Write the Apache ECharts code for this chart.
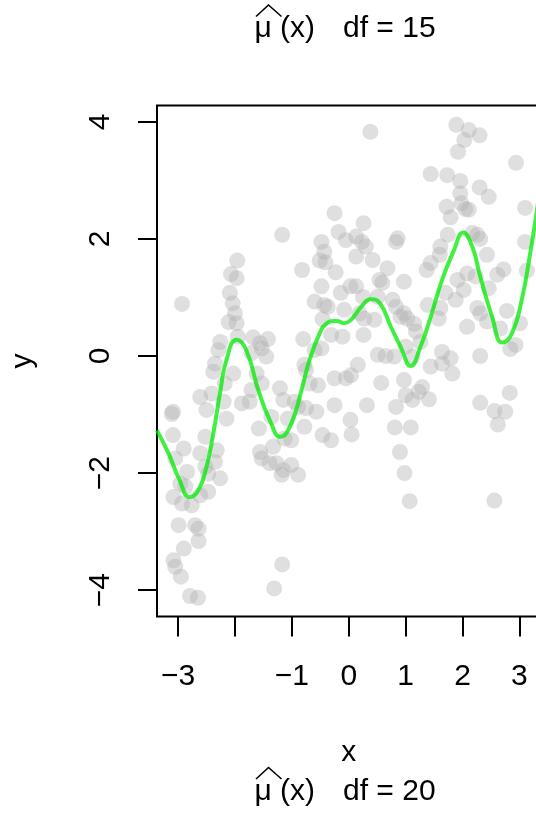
<!DOCTYPE html>
<html>
<head>
<meta charset="utf-8">
<script src="https://cdn.jsdelivr.net/npm/echarts@6/dist/echarts.min.js"></script>
<style>
  html, body { margin: 0; padding: 0; overflow: hidden; background: #fff; }
  #chart { width: 545px; height: 816px; }
</style>
</head>
<body>
<div id="chart"></div>
<script>
// Observed sample (x, y)
const pointX = [
  -2.93,-1.17,-0.25,-0.18,-0.48,-0.43,-0.51,-0.41,-0.23,-0.82,
  -1.96,-2.07,-1.97,-2.09,-2.04,-2.00,-2.11,-1.97,-0.48,-0.14,
  -0.60,-0.43,-0.37,-0.46,-0.08,-0.11,-0.31,-0.80,-0.48,-0.60,
  -0.05,0.03,-2.26,-2.29,-1.68,-1.42,-1.53,-1.95,0.38,1.89,
  2.11,2.30,2.03,1.92,2.94,1.44,1.73,1.96,2.30,1.96,
  2.46,1.72,2.05,2.11,3.10,1.79,0.26,1.98,0.86,0.83,
  0.13,0.23,0.30,0.13,0.42,0.68,0.54,0.59,0.97,0.13,
  0.25,0.51,0.77,0.83,0.97,1.03,0.91,1.15,1.18,0.19,
  0.27,0.45,0.26,1.26,1.00,0.51,0.65,0.80,1.12,1.64,
  1.79,2.31,1.37,1.44,1.60,1.61,1.74,2.17,2.26,2.31,
  2.43,2.08,2.23,2.61,2.72,1.91,2.02,1.88,1.70,1.39,
  1.61,1.58,2.46,2.26,2.31,2.43,2.08,2.78,3.01,2.66,
  2.93,2.84,3.10,3.13,-2.35,-2.38,-2.03,-2.18,-2.61,-2.41,
  -2.20,-2.50,-2.15,-3.09,-3.11,-3.09,-2.52,-2.32,-2.61,-2.35,
  -3.05,-2.90,-2.52,-2.84,-2.47,-2.26,-2.87,-2.47,-2.61,-3.08,
  -2.93,-2.76,-2.99,-2.70,-2.64,-2.64,-2.90,-3.08,-3.05,-2.95,
  -2.79,-2.65,-1.17,-1.31,-1.88,-1.74,-1.71,-1.62,-1.53,-1.45,
  -1.56,-1.71,-1.21,-1.15,-1.36,-1.58,-0.95,-0.89,-0.75,-0.78,
  -0.75,-0.69,-0.54,-0.57,-0.78,-1.07,-1.01,-1.13,-1.33,-1.56,
  -1.53,-1.39,-1.27,-1.15,-1.18,-1.01,-0.89,-0.46,-0.31,-0.25,
  -0.25,-0.05,-2.96,0.03,0.05,0.16,0.04,0.32,0.57,0.97,
  0.83,1.00,1.12,1.29,1.23,1.41,1.44,1.64,1.82,0.81,
  1.09,0.90,0.98,1.07,2.31,2.56,2.75,2.83,2.62,2.56
];
const pointY = [
  0.89,2.07,2.44,2.12,1.95,1.78,1.63,1.60,1.43,1.47,
  1.63,1.40,1.33,1.08,0.90,0.73,0.58,0.56,1.19,1.08,
  0.93,0.87,0.84,0.63,0.79,0.33,0.36,0.29,0.13,0.10,
  1.98,1.19,0.24,0.10,0.32,0.29,0.13,0.33,3.83,3.95,
  3.86,3.77,3.69,3.49,3.30,3.11,3.09,2.99,2.88,2.78,
  2.72,2.55,2.51,2.50,2.53,2.37,2.27,2.61,2.01,1.95,
  2.04,1.95,1.87,1.70,1.64,1.50,1.30,1.25,1.27,1.19,
  1.01,1.01,0.96,0.84,0.73,0.64,0.67,0.55,0.42,0.73,
  0.64,0.62,0.36,0.24,0.16,0.02,0.00,-0.01,-0.01,0.07,
  -0.04,0.00,1.47,1.59,1.73,1.87,2.07,2.10,2.07,2.00,
  1.73,1.41,1.36,1.39,1.48,1.30,1.13,0.96,1.08,0.87,
  0.82,0.64,1.16,0.82,0.73,0.59,0.50,0.77,0.56,0.47,
  0.19,0.12,1.95,1.46,-0.13,-0.27,-0.30,-0.47,-0.70,-0.64,
  -0.78,-0.92,-1.07,-0.95,-0.99,-1.35,-1.38,-1.61,-1.66,-1.81,
  -1.75,-1.58,-1.89,-1.98,-2.01,-2.09,-2.23,-2.32,-2.38,-2.41,
  -2.52,-2.55,-2.89,-2.89,-2.95,-3.16,-3.29,-3.49,-3.60,-3.77,
  -4.10,-4.13,-3.56,-3.97,-0.81,-0.78,-0.58,-0.30,-0.47,-0.01,
  0.22,0.05,-0.55,-0.75,-1.04,-1.24,-0.78,-0.87,-0.89,-0.15,
  -0.24,-0.47,-0.50,-0.95,-1.21,-1.07,-1.44,-1.41,-1.55,-1.64,
  -1.75,-1.83,-1.83,-1.95,-2.03,-1.86,-2.03,-1.35,-1.44,-0.84,
  -0.38,-0.38,-2.18,-1.09,-1.34,-0.15,-0.33,-0.84,-0.46,-0.41,
  -0.87,-0.67,-0.75,-0.53,-0.61,-0.74,-0.18,-0.13,-0.30,-1.22,
  -1.22,-1.64,-2.00,-2.48,-0.80,-0.94,-0.95,-0.63,-1.17,-2.47
];

// Fitted smoothing spline, df = 15
const fitX = [
  -3.37,-3.16,-2.99,-2.79,-2.64,-2.50,-2.38,-2.26,-2.15,-1.97,
  -1.80,-1.59,-1.39,-1.20,-1.01,-0.83,-0.69,-0.51,-0.40,-0.22,
  -0.08,0.04,0.22,0.38,0.54,0.74,0.91,1.09,1.26,1.44,
  1.64,1.85,2.01,2.17,2.31,2.52,2.70,2.87,3.04,3.19,
  3.30,3.37
];
const fitY = [
  -1.27,-1.68,-2.08,-2.41,-2.29,-1.89,-1.32,-0.62,-0.07,0.28,
  0.10,-0.58,-1.09,-1.38,-1.15,-0.58,-0.07,0.39,0.55,0.60,
  0.56,0.62,0.84,0.97,0.91,0.50,0.16,-0.17,0.16,0.67,
  1.30,1.81,2.11,1.87,1.36,0.67,0.23,0.39,0.96,1.76,
  2.44,2.95
];

// Axis ticks and labels
const xTicks = [-3, -2, -1, 0, 1, 2, 3];
const xTickLabels = [-3, -1, 0, 1, 2, 3];
const yTicks = [-4, -2, 0, 2, 4];

const FONT = '"Liberation Sans", Arial, Helvetica, sans-serif';
const minus = v => String(v).replace('-', '\u2212');

const chart = echarts.init(document.getElementById('chart'), null, { renderer: 'canvas' });

function titleParts(baselineMid, hatBottom, hatTop, dfText) {
  return [
    { type: 'polyline', shape: { points: [[256, hatBottom], [268.5, hatTop], [281.5, hatBottom]] },
      style: { stroke: '#000', lineWidth: 1.6, fill: null } },
    { type: 'text', x: 254.5, y: baselineMid,
      style: { text: '\u03bc', font: '30px ' + FONT, fill: '#000', textAlign: 'left', textVerticalAlign: 'middle' } },
    { type: 'text', x: 280, y: baselineMid,
      style: { text: '(x)', font: '30px ' + FONT, fill: '#000', textAlign: 'left', textVerticalAlign: 'middle' } },
    { type: 'text', x: 343, y: baselineMid,
      style: { text: dfText, font: '30px ' + FONT, fill: '#000', textAlign: 'left', textVerticalAlign: 'middle' } }
  ];
}

chart.setOption({
  animation: false,
  backgroundColor: '#ffffff',
  grid: {
    left: 155, top: 105.5, right: 4.5, bottom: 199.5,
    show: true, borderColor: '#000', borderWidth: 2, backgroundColor: 'transparent'
  },
  xAxis: {
    type: 'value', min: -3.37, max: 3.37,
    name: 'x', nameLocation: 'middle', nameGap: 121,
    nameTextStyle: { fontFamily: FONT, fontSize: 30, color: '#000' },
    axisLine: { show: false, onZero: false },
    splitLine: { show: false },
    axisTick: { show: true, inside: false, length: 20, customValues: xTicks,
      lineStyle: { color: '#000', width: 2 } },
    axisLabel: { show: true, margin: 45, customValues: xTickLabels,
      fontFamily: FONT, fontSize: 30, color: '#000', formatter: minus }
  },
  yAxis: {
    type: 'value', min: -4.45, max: 4.28,
    name: 'y', nameLocation: 'middle', nameGap: 119, nameRotate: 90,
    nameTextStyle: { fontFamily: FONT, fontSize: 30, color: '#000' },
    axisLine: { show: false, onZero: false },
    splitLine: { show: false },
    axisTick: { show: true, inside: false, length: 19, customValues: yTicks,
      lineStyle: { color: '#000', width: 2 } },
    axisLabel: { show: true, margin: 41, rotate: 90, customValues: yTicks,
      fontFamily: FONT, fontSize: 30, color: '#000', formatter: minus }
  },
  series: [
    {
      type: 'scatter',
      data: pointX.map((x, i) => [x, pointY[i]]),
      symbol: 'circle',
      symbolSize: 16,
      itemStyle: { color: 'rgba(175,175,175,0.5)', borderWidth: 0 },
      silent: true,
      z: 2
    },
    {
      type: 'line',
      data: fitX.map((x, i) => [x, fitY[i]]),
      smooth: 0.5,
      showSymbol: false,
      clip: true,
      lineStyle: { color: 'rgba(0,235,0,0.75)', width: 4 },
      silent: true,
      z: 3
    }
  ],
  graphic: [
    // panel title: mu-hat(x)  df = 15
    ...titleParts(28.9, 16.5, 5, 'df = 15'),
    // next panel title: mu-hat(x)  df = 20
    ...titleParts(791.3, 779, 767.5, 'df = 20')
  ]
});
</script>
</body>
</html>
